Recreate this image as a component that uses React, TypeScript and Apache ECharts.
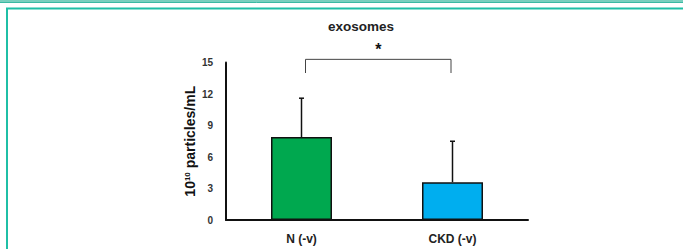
import React, { useEffect, useRef } from "react";
import * as echarts from "echarts";

const categories = ["N (-v)", "CKD (-v)"];
const means = [7.9, 3.6];
const sdUpper = [11.6, 7.5];
const barColors = ["#00a84f", "#00aeef"];
const yTicks = { min: 0, max: 15, interval: 3 };
const bracketLevel = 15.3;
const bracketDrop = 14.0;
const starLevel = 16.2;

export default function App() {
  const ref = useRef<HTMLDivElement>(null);
  useEffect(() => {
    if (!ref.current) return;
    const chart = echarts.init(ref.current, null, { renderer: "svg" });
    chart.setOption({
      animation: false,
      backgroundColor: "#ffffff",
      title: {
        text: "exosomes",
        left: 356,
        top: 14,
        textAlign: "center",
        textStyle: { fontFamily: "Liberation Sans, Arial", fontSize: 13.5, fontWeight: "bold", color: "#222" },
      },
      graphic: [
        { type: "rect", shape: { x: 0, y: 0, width: 683, height: 2.5 }, style: { fill: "#79cfbe" } },
        { type: "line", shape: { x1: 0, y1: 2.5, x2: 683, y2: 2.5 }, style: { stroke: "#3bb9a3", lineWidth: 1 } },
        {
          type: "polyline",
          shape: { points: [[7, 249], [7, 8.5], [683, 8.5]] },
          style: { stroke: "#1fbfa6", lineWidth: 2, fill: "none" },
        },
      ],
      grid: { left: 226, right: 155, top: 62.5, bottom: 29 },
      xAxis: {
        type: "category",
        data: categories,
        axisLine: { lineStyle: { color: "#111", width: 2 } },
        axisTick: { show: false },
        axisLabel: { fontFamily: "Liberation Sans, Arial", fontSize: 12, fontWeight: "bold", color: "#222", margin: 13 },
      },
      yAxis: {
        type: "value",
        min: yTicks.min,
        max: yTicks.max,
        interval: yTicks.interval,
        splitLine: { show: false },
        axisTick: { show: false },
        axisLine: { show: true, lineStyle: { color: "#111", width: 2 } },
        axisLabel: { fontFamily: "Liberation Sans Narrow, Liberation Sans, Arial", fontSize: 10, fontWeight: "bold", color: "#333", margin: 13 },
        name: "10{sup|10} particles/mL",
        nameLocation: "middle",
        nameRotate: 90,
        nameGap: 29,
        nameTextStyle: {
          fontFamily: "Liberation Sans, Arial",
          fontSize: 14,
          fontWeight: "bold",
          color: "#111",
          rich: { sup: { fontSize: 8, fontWeight: "bold", color: "#111", verticalAlign: "top", padding: [0, 0, 6, 0] } },
        },
      },
      series: [
        {
          type: "bar",
          barWidth: 61,
          data: means.map((v, i) => ({
            value: v,
            itemStyle: { color: barColors[i], borderColor: "#111", borderWidth: 1.5 },
          })),
          z: 2,
        },
        {
          type: "custom",
          z: 3,
          data: means.map((m, i) => [i, m, sdUpper[i]]),
          renderItem: (params: any, api: any) => {
            const i = api.value(0);
            const lo = api.coord([i, api.value(1)]);
            const hi = api.coord([i, api.value(2)]);
            return {
              type: "group",
              children: [
                { type: "line", shape: { x1: lo[0], y1: lo[1], x2: hi[0], y2: hi[1] }, style: { stroke: "#111", lineWidth: 1.5 } },
                { type: "line", shape: { x1: hi[0] - 2.5, y1: hi[1], x2: hi[0] + 2.5, y2: hi[1] }, style: { stroke: "#111", lineWidth: 1.5 } },
              ],
            };
          },
        },
        {
          type: "custom",
          z: 3,
          clip: false,
          data: [[0, 1]],
          renderItem: (params: any, api: any) => {
            const a = api.coord([0, bracketLevel]);
            const b = api.coord([1, bracketLevel]);
            const ad = api.coord([0, bracketDrop]);
            const bd = api.coord([1, bracketDrop]);
            const s = api.coord([0, starLevel]);
            const ax = a[0] + 4;
            const bx = b[0] - 1.5;
            return {
              type: "group",
              children: [
                {
                  type: "polyline",
                  shape: { points: [[ax, ad[1]], [ax, a[1]], [bx, b[1]], [bx, bd[1]]] },
                  style: { stroke: "#444", lineWidth: 1, fill: "none" },
                },
                {
                  type: "text",
                  x: (ax + bx) / 2,
                  y: s[1],
                  style: {
                    text: "*",
                    fontSize: 16,
                    fontWeight: "bold",
                    fontFamily: "Liberation Sans, Arial",
                    fill: "#111",
                    align: "center",
                    verticalAlign: "middle",
                  },
                },
              ],
            };
          },
        },
      ],
    });
    return () => chart.dispose();
  }, []);
  return <div ref={ref} style={{ position: "fixed", left: 0, top: 0, width: 683, height: 249 }} />;
}
